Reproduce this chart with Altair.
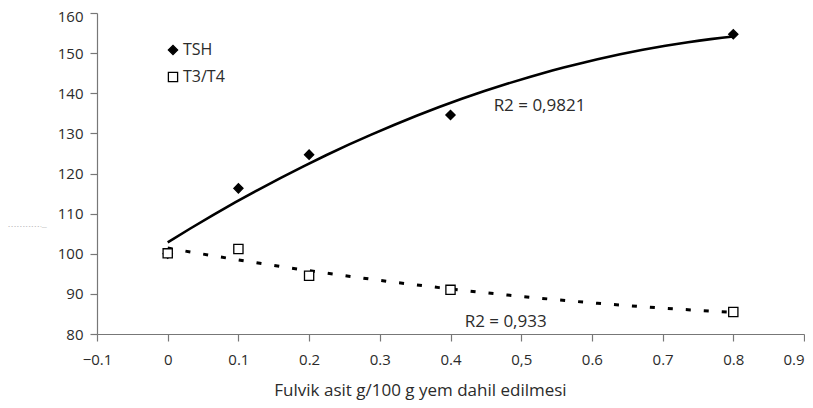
import altair as alt
import pandas as pd

doses = [0, 0.1, 0.2, 0.4, 0.8]
tsh = [100.0, 116.3, 124.7, 134.6, 154.7]
t3t4 = [100.1, 101.2, 94.5, 91.0, 85.5]
series_names = ["TSH", "T3/T4"]
x_ticks = [-0.1, 0, 0.1, 0.2, 0.3, 0.4, 0.5, 0.6, 0.7, 0.8, 0.9]
y_ticks = [80, 90, 100, 110, 120, 130, 140, 150, 160]
r2_labels = ["R2 = 0,9821", "R2 = 0,933"]
r2_x = [0.461, 0.42]
r2_y = [136.7, 82.9]

rows = []
for d, v in zip(doses, tsh):
    rows.append({"x": d, "y": v, "series": "TSH"})
for d, v in zip(doses, t3t4):
    rows.append({"x": d, "y": v, "series": "T3/T4"})
df = pd.DataFrame(rows)
lab = pd.DataFrame({"x": r2_x, "y": r2_y, "text": r2_labels})

FONT = "Open Sans"
TXT = "#2b2b2b"

xscale = alt.Scale(domain=[-0.1, 0.9], nice=False, zero=False)
yscale = alt.Scale(domain=[80, 160], nice=False, zero=False)

xaxis = alt.Axis(
    values=x_ticks,
    labelExpr="datum.value == 0.5 ? '0,5' : format(datum.value, '~g')",
    labelAlign={"condition": {"test": "datum.value > 0.85", "value": "right"}, "value": "center"},
    title="Fulvik asit g/100 g yem dahil edilmesi",
    titleX=323, titleY=56, titleBaseline="middle", titleAnchor="start",
    titleAlign="center",
    grid=False, tickSize=7, labelPadding=11, labelFlush=False,
    labelOverlap=False,
)
yaxis = alt.Axis(
    values=y_ticks,
    labelOffset={"condition": {"test": "datum.value > 155", "value": 3}, "value": 0},
    title="- - - - - - - - - - - ·‒‒",
    titleAngle=0, titleX=-70, titleY=212, titleFontSize=5, titleBaseline="middle",
    titleAlign="center",
    titleColor="#666666", titleFontWeight="normal",
    grid=False, tickSize=7, labelPadding=7,
)

base = alt.Chart(df)

points = base.mark_point(filled=True, strokeWidth=1.3, opacity=1, size=85).encode(
    x=alt.X("x:Q", scale=xscale, axis=xaxis),
    y=alt.Y("y:Q", scale=yscale, axis=yaxis),
    shape=alt.Shape("series:N", scale=alt.Scale(domain=series_names, range=["diamond", "square"]),
                    legend=alt.Legend(title=None)),
    fill=alt.Fill("series:N", scale=alt.Scale(domain=series_names, range=["black", "white"]),
                  legend=alt.Legend(title=None)),
    stroke=alt.Stroke("series:N", scale=alt.Scale(domain=series_names, range=["black", "black"]),
                      legend=alt.Legend(title=None)),
)

fit_tsh = base.transform_filter(alt.datum.series == "TSH").transform_regression(
    "x", "y", method="poly", order=2
).mark_line(color="black", strokeWidth=2.6).encode(
    x=alt.X("x:Q", scale=xscale), y=alt.Y("y:Q", scale=yscale)
)

fit_t3 = base.transform_filter(alt.datum.series == "T3/T4").transform_regression(
    "x", "y", method="poly", order=2
).mark_line(color="black", strokeWidth=3, strokeDash=[5, 13]).encode(
    x=alt.X("x:Q", scale=xscale), y=alt.Y("y:Q", scale=yscale)
)

texts = alt.Chart(lab).mark_text(align="left", baseline="middle", font=FONT, fontSize=17, color=TXT).encode(
    x=alt.X("x:Q", scale=xscale), y=alt.Y("y:Q", scale=yscale), text="text:N"
)

chart = alt.layer(fit_tsh, fit_t3, points, texts).properties(
    width=707, height=321,
    autosize=alt.AutoSizeParams(type="none"),
    padding={"left": 89, "top": 5, "right": 1, "bottom": 70},
).configure_view(stroke=None).configure_axis(
    labelFont=FONT, labelFontSize=15, labelColor=TXT,
    titleFont=FONT, titleFontSize=17, titleColor=TXT, titleFontWeight="normal",
    domainColor="#777777", tickColor="#777777", domainWidth=1.2, tickWidth=1.2,
).configure_legend(
    orient="none", legendX=68, legendY=29, padding=0, rowPadding=11,
    labelFont=FONT, labelFontSize=16, labelColor=TXT, labelOffset=2,
    symbolStrokeColor="black", symbolStrokeWidth=1.3, symbolSize=85,
)

chart.save("out.html", embed_options={"renderer": "svg", "actions": False})
